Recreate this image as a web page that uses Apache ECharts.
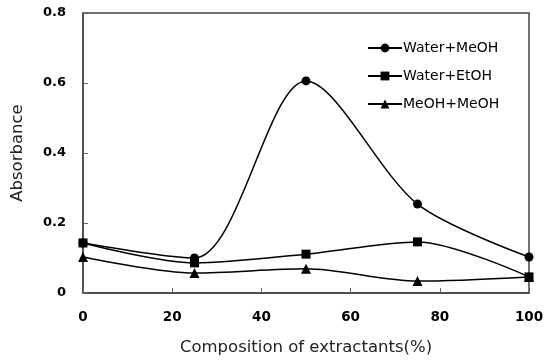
<!DOCTYPE html>
<html>
<head>
<meta charset="utf-8">
<script src="https://cdn.jsdelivr.net/npm/echarts@6/dist/echarts.min.js"></script>
<style>
  html, body { margin: 0; padding: 0; background: #fff; }
  #chart { width: 545px; height: 360px; }
</style>
</head>
<body>
<div id="chart"></div>
<script>
// composition (%) on the x axis
const composition = [0, 25, 50, 75, 100];
// absorbance
const waterMeoh = [0.143, 0.100, 0.606, 0.254, 0.103];
const waterEtoh = [0.143, 0.086, 0.111, 0.146, 0.046];
const meohMeoh = [0.103, 0.057, 0.069, 0.034, 0.046];

const pairs = (ys) => composition.map((x, i) => [x, ys[i]]);

const chart = echarts.init(document.getElementById('chart'));

const lineSeries = (name, ys, symbol) => ({
  name,
  type: 'line',
  data: pairs(ys),
  smooth: 0.3,
  symbol,
  symbolSize: symbol === 'triangle' ? 10 : 9,
  lineStyle: { color: '#000', width: 1.5 },
  itemStyle: { color: '#000' },
  emphasis: { disabled: true },
  z: symbol === 'circle' ? 3 : 2,
});

chart.setOption({
  animation: false,
  textStyle: { fontFamily: 'DejaVu Sans' },
  grid: {
    left: 83, right: 16, top: 13, bottom: 67,
    outerBoundsMode: 'none',
    show: true, borderColor: '#444', borderWidth: 1.5,
  },
  legend: {
    orient: 'vertical',
    left: 362, top: 36,
    itemWidth: 34, itemHeight: 11, itemGap: 14,
    textStyle: { fontFamily: 'DejaVu Sans', fontSize: 14, color: '#000', padding: [0, 0, 0, -4] },
    data: ['Water+MeOH', 'Water+EtOH', 'MeOH+MeOH'],
  },
  xAxis: {
    type: 'value',
    min: 0, max: 100, interval: 20,
    name: 'Composition of extractants(%)',
    nameLocation: 'middle',
    nameGap: 46,
    nameTextStyle: { fontSize: 16.5, color: '#222', fontFamily: 'DejaVu Sans' },
    axisLine: { lineStyle: { color: '#444', width: 1.5 } },
    axisTick: { inside: true, length: 5, lineStyle: { color: '#666' } },
    axisLabel: { fontWeight: 'bold', fontSize: 13.5, color: '#000', margin: 17 },
    splitLine: { show: false },
  },
  yAxis: {
    type: 'value',
    min: 0, max: 0.8, interval: 0.2,
    name: 'Absorbance',
    nameLocation: 'middle',
    nameGap: 57,
    nameTextStyle: { fontSize: 16.5, color: '#222', fontFamily: 'DejaVu Sans' },
    axisLine: { show: true, lineStyle: { color: '#444', width: 1.5 } },
    axisTick: { show: true, inside: true, length: 5, lineStyle: { color: '#666' } },
    axisLabel: { fontWeight: 'bold', fontSize: 13, color: '#000', margin: 17 },
    splitLine: { show: false },
  },
  series: [
    lineSeries('Water+MeOH', waterMeoh, 'circle'),
    lineSeries('Water+EtOH', waterEtoh, 'rect'),
    lineSeries('MeOH+MeOH', meohMeoh, 'triangle'),
  ],
});
</script>
</body>
</html>
